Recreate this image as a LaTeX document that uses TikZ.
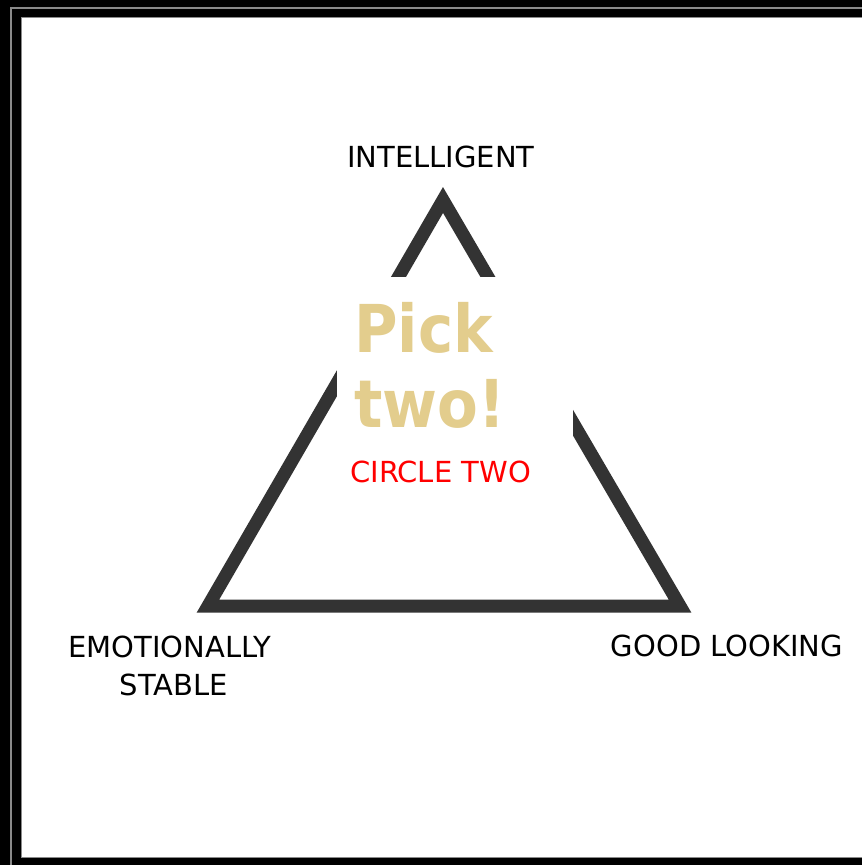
\documentclass[tikz,border=0pt]{standalone}
\usepackage{fontspec}
\setmainfont{DejaVu Sans}
\newfontfamily\pickfont{DejaVu Sans Condensed}
\definecolor{tri}{HTML}{333333}
\definecolor{gold}{HTML}{E3CD8D}
\definecolor{rim}{HTML}{8A8A8A}
\begin{document}
\begin{tikzpicture}[x=1pt,y=-1pt,
  label/.style={inner sep=0pt,anchor=base,font=\fontsize{29}{36}\selectfont,text=black},
  picktext/.style={inner sep=0pt,anchor=base west,font=\pickfont\bfseries\fontsize{66}{75}\selectfont,text=gold},
  redtext/.style={inner sep=0pt,anchor=base west,font=\fontsize{29}{36}\selectfont,text=red},
  triline/.style={draw=tri,line width=13pt,line join=miter}]
\useasboundingbox (0,0) rectangle (862,865);
% frame
\fill[black] (0,0) rectangle (862,865);
\fill[white] (21,17) rectangle (862,857);
\draw[rim,line width=2pt] (11,865) -- (11,8) -- (862,8);
\draw[rim,line width=1pt] (21,857) -- (862,857);
\draw[rim,line width=1pt] (21,857) -- (21,17) -- (862,17);
% triangle
\coordinate (apex) at (443,200);
\coordinate (bl) at (208,606);
\coordinate (br) at (680,606);
\draw[triline] (apex) -- (bl) -- (br) -- cycle;
% white patch
\fill[white] (337,277) rectangle (573,450);
% texts
\node[label] (intel) at (441,167) {INTELLIGENT};
\node[label] (emo) at (170,657) {EMOTIONALLY};
\node[label] (stable) at (174,695) {STABLE};
\node[label] (good) at (727,656) {GOOD LOOKING};
\node[picktext] (pick) at (354,352) {Pick};
\node[picktext] (two) at (354,427) {two!};
\node[redtext] (circle) at (350,482) {CIRCLE TWO};
\end{tikzpicture}
\end{document}
